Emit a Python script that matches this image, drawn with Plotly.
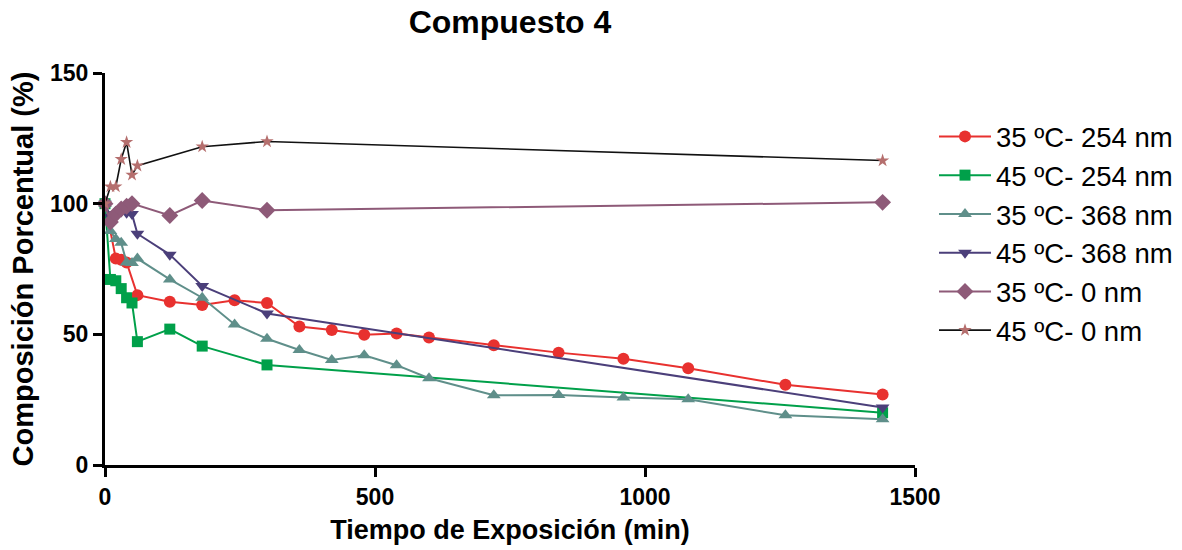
import plotly.graph_objects as go

# ---- data ----
t_r = [0, 20, 30, 40, 60, 120, 180, 240, 300, 360, 420, 480, 540, 600, 720, 840, 960, 1080, 1260, 1440]
y_r = [100, 79, 78.5, 77.5, 65, 62.5, 61.2, 63, 62, 53, 51.7, 49.8, 50.3, 48.8, 45.8, 43, 40.7, 37, 30.7, 27]

t_g = [0, 10, 20, 30, 40, 50, 60, 120, 180, 300, 1440]
y_g = [100, 71, 70.5, 67.5, 64, 62, 47.2, 52, 45.5, 38.3, 20]

t_t = [0, 10, 20, 30, 40, 50, 60, 120, 180, 240, 300, 360, 420, 480, 540, 600, 720, 840, 960, 1080, 1260, 1440]
y_t = [100, 89.5, 86.5, 85, 77.5, 77.3, 79, 71, 64, 53.8, 48.3, 44, 40.2, 42, 38.2, 33.2, 26.7, 26.8, 25.8, 25.2, 19, 17.5]

t_p = [0, 10, 20, 30, 40, 50, 60, 120, 180, 300, 1440]
y_p = [100, 95, 96, 97, 96.5, 96, 88.5, 80.5, 68.5, 58, 22]

t_m = [0, 10, 20, 30, 40, 50, 120, 180, 300, 1440]
y_m = [100, 93, 96, 98, 99, 100, 95.5, 101.2, 97.5, 100.5]

t_k = [0, 10, 20, 30, 40, 50, 60, 180, 300, 1440]
y_k = [100, 106.5, 106.5, 117, 123.5, 111, 114.5, 121.8, 123.8, 116.5]

names = ["35 ºC- 254 nm", "45 ºC- 254 nm", "35 ºC- 368 nm", "45 ºC- 368 nm", "35 ºC- 0 nm", "45 ºC- 0 nm"]
x_ticks = [0, 500, 1000, 1500]
y_ticks = [0, 50, 100, 150]

series = [
    (t_r, y_r, "#e8312f", "#e8312f", "circle", 12, 2),
    (t_g, y_g, "#00a04a", "#00a04a", "square", 11, 2),
    (t_t, y_t, "#5f8f8a", "#5f8f8a", "triangle-up", 12, 2),
    (t_p, y_p, "#4b3f7a", "#4b3f7a", "triangle-down", 12, 2),
    (t_m, y_m, "#8e5a78", "#8e5a78", "diamond", 13, 2),
    (t_k, y_k, "#111111", "#b56f6e", "star", 10, 1.6),
]

fig = go.Figure()
for i, (tx, ty, lc, mc, sym, sz, lw) in enumerate(series):
    fig.add_trace(go.Scatter(
        x=tx, y=ty, name=names[i], mode="lines+markers",
        line=dict(color=lc, width=lw),
        marker=dict(color=mc, symbol=sym, size=sz, line=dict(width=0)),
        cliponaxis=False, legendgroup=str(i),
    ))

axis_common = dict(showline=True, linecolor="black", linewidth=3, ticks="outside",
                   ticklen=9, tickwidth=3, tickcolor="black", showgrid=False, zeroline=False,
                   tickfont=dict(family="Liberation Sans, Arial", size=23, color="black", weight="bold"))

fig.update_layout(
    width=1182, height=550,
    margin=dict(l=105, r=267, t=73, b=85, autoexpand=False),
    paper_bgcolor="white", plot_bgcolor="white",
    title=dict(text="<b>Compuesto 4</b>", x=(105 + 915) / 2 / 1182, xanchor="center", y=0.96, yanchor="middle",
               font=dict(family="Liberation Sans, Arial", size=32, color="black")),
    xaxis=dict(range=[0, 1500], tickvals=x_ticks, ticktext=[str(v) for v in x_ticks],
               title=dict(text="<b>Tiempo de Exposición (min)</b>", standoff=12,
                          font=dict(family="Liberation Sans, Arial", size=27, color="black")),
               **axis_common),
    yaxis=dict(range=[0, 150], tickvals=y_ticks, ticktext=[str(v) for v in y_ticks],
               title=dict(text="<b>Composición Porcentual (%)</b>", standoff=8,
                          font=dict(family="Liberation Sans, Arial", size=29, color="black")),
               **axis_common),
    legend=dict(xref="container", yref="container", x=934 / 1182, xanchor="left",
                y=1 - 112 / 550, yanchor="top", tracegroupgap=0, itemwidth=52,
                font=dict(family="Liberation Sans, Arial", size=27.5, color="black"),
                bgcolor="rgba(0,0,0,0)"),
)

fig.write_html("out.html")
